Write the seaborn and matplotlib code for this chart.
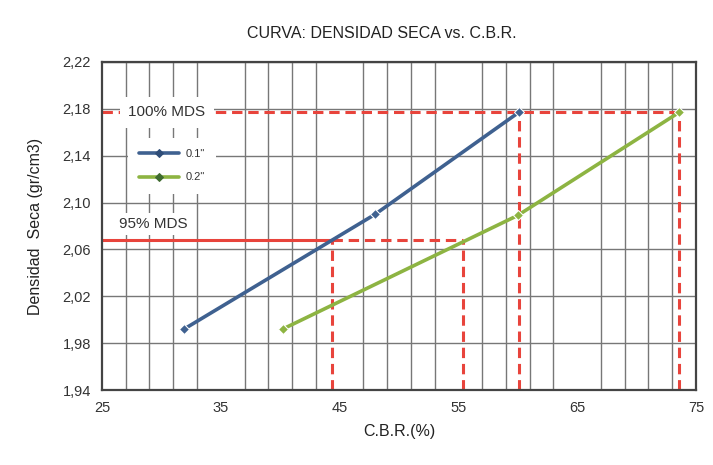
import matplotlib
matplotlib.use("Agg")
import matplotlib.pyplot as plt
import matplotlib.ticker as mticker
import numpy as np
import pandas as pd
import seaborn as sns

# Penetration curves: CBR (%) vs dry density
cbr_01 = [31.9, 48.0, 60.1]
dens_01 = [1.992, 2.090, 2.177]
cbr_02 = [40.2, 60.0, 73.6]
dens_02 = [1.992, 2.089, 2.177]
series_labels = ['0.1"', '0.2"']

# Maximum dry density and its 95 %
mds_100 = 2.177
mds_95 = 2.068
cbr_at_100 = [60.1, 73.6]
cbr_at_95 = [44.4, 55.4]

x_ticks = [25, 35, 45, 55, 65, 75]
y_ticks = [1.94, 1.98, 2.02, 2.06, 2.10, 2.14, 2.18, 2.22]

df = pd.DataFrame({
    "cbr": cbr_01 + cbr_02,
    "dens": dens_01 + dens_02,
    "serie": [series_labels[0]] * len(cbr_01) + [series_labels[1]] * len(cbr_02),
})

sns.set_theme(style="white")
plt.rcParams["font.family"] = ["Liberation Sans", "DejaVu Sans"]

fig = plt.figure(figsize=(7.13, 4.65), dpi=100)
ax = fig.add_axes([0.143, 0.161, 0.833, 0.706])

red = "#e8443c"
dash = (3.4, 1.9)

# reference lines for 100 % MDS
ax.plot([x_ticks[0], cbr_at_100[1]], [mds_100, mds_100], color=red, lw=2.2,
        linestyle=(0, dash), zorder=2)
for c in cbr_at_100:
    ax.plot([c, c], [y_ticks[0], mds_100], color=red, lw=2.2,
            linestyle=(0, dash), zorder=2)

# reference lines for 95 % MDS
ax.plot([x_ticks[0], cbr_at_95[0]], [mds_95, mds_95], color=red, lw=2.2,
        solid_capstyle="butt", zorder=2)
ax.plot([cbr_at_95[0], cbr_at_95[1]], [mds_95, mds_95], color=red, lw=2.2,
        linestyle=(0, dash), zorder=2)
for c in cbr_at_95:
    ax.plot([c, c], [y_ticks[0], mds_95], color=red, lw=2.2,
            linestyle=(0, dash), zorder=2)

palette = {series_labels[0]: "#3f6190", series_labels[1]: "#8db442"}
sns.lineplot(data=df, x="cbr", y="dens", hue="serie", palette=palette,
             marker="D", markersize=5.5, linewidth=2.6, ax=ax, zorder=4,
             sort=False, legend=True)
for line, mcol in zip(ax.lines[-2:], ["#2f4d78", "#3f6b30"]):
    line.set_markerfacecolor(mcol)
    line.set_markeredgecolor(mcol)

ax.set_xlim(x_ticks[0], x_ticks[-1])
ax.set_ylim(y_ticks[0], y_ticks[-1])
ax.set_xticks(x_ticks)
ax.set_xticks(np.arange(25, 76, 2), minor=True)
ax.set_yticks(y_ticks)
ax.yaxis.set_major_formatter(
    mticker.FuncFormatter(lambda v, p: f"{v:.2f}".replace(".", ",")))
ax.grid(True, which="major", axis="y", color="#777777", lw=1.0)
ax.grid(True, which="minor", axis="x", color="#777777", lw=1.0)
ax.grid(False, which="major", axis="x")
ax.set_axisbelow(True)
ax.tick_params(axis="both", which="both", length=0, labelsize=10.5,
               colors="#333333", pad=8)
for s in ax.spines.values():
    s.set_color("#444444")
    s.set_linewidth(1.6)

ax.set_xlabel("C.B.R.(%)", fontsize=11.5, color="#222222", labelpad=6)
ax.set_ylabel("Densidad  Seca (gr/cm3)", fontsize=11.5, color="#222222",
              labelpad=14)
fig.text(0.535, 0.928, "CURVA: DENSIDAD SECA vs. C.B.R.", ha="center",
         va="center", fontsize=11.5, color="#222222")

ax.text(27.2, mds_100, "100% MDS", fontsize=11, color="#333333", va="center",
        ha="left", zorder=5,
        bbox=dict(facecolor="white", edgecolor="none", pad=6))
ax.text(26.4, 2.082, "95% MDS", fontsize=11, color="#333333", va="center",
        ha="left", zorder=5,
        bbox=dict(facecolor="white", edgecolor="none", pad=3))

leg = ax.legend(title=None, loc="upper left", bbox_to_anchor=(0.035, 0.785),
                frameon=True, fontsize=8, handlelength=3.6, handletextpad=0.6,
                labelspacing=1.2, borderpad=1.0, markerscale=0.7)
leg.get_frame().set_facecolor("white")
leg.get_frame().set_edgecolor("none")
leg.get_frame().set_alpha(1.0)
leg.set_zorder(6)
for t in leg.get_texts():
    t.set_color("#333333")

fig.savefig("out.png", dpi=100, facecolor="white")
